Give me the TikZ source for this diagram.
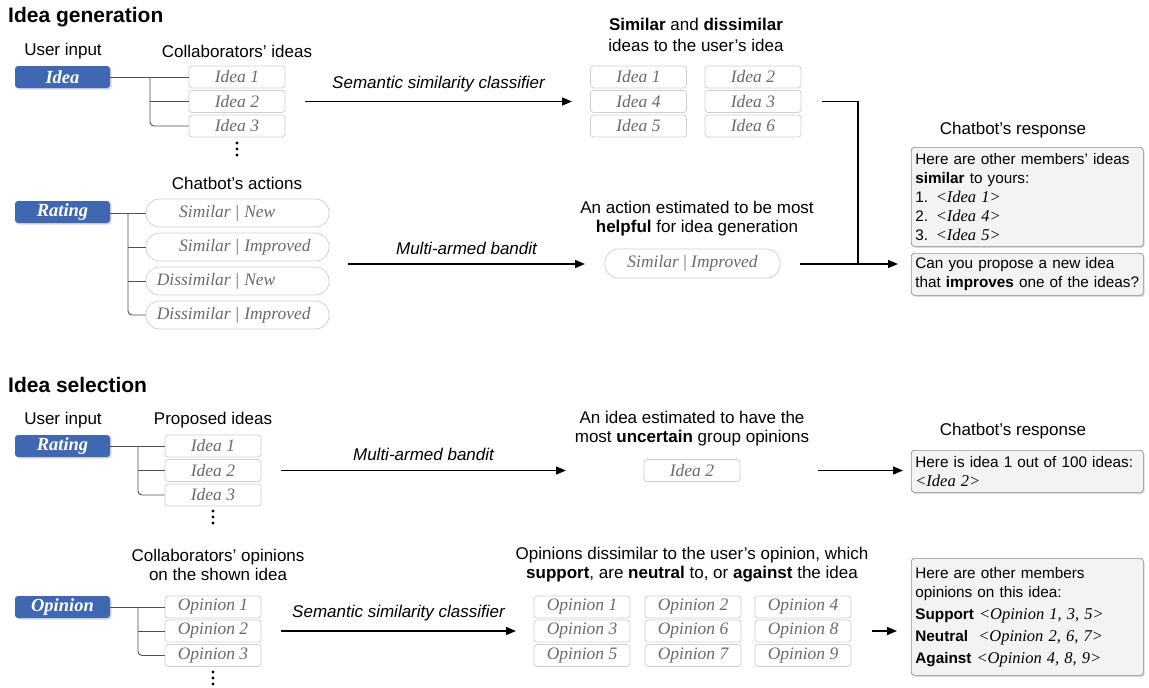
\documentclass[tikz,border=0pt]{standalone}
\usepackage{fontspec}
\setmainfont{Liberation Sans}
\newfontfamily\ser{Liberation Serif}
\usetikzlibrary{arrows.meta,shadows,calc}
\definecolor{myblue}{HTML}{4068B2}
\definecolor{boxline}{HTML}{CFCFCF}
\definecolor{boxtext}{HTML}{6A6A6A}
\definecolor{respfill}{HTML}{F3F3F3}
\definecolor{respline}{HTML}{8E8E8E}
\definecolor{treecol}{HTML}{505050}
\newcommand\pilltext[2]{\makebox[82pt][r]{#1}\hspace{5pt}{\upshape|}\hspace{5pt}\makebox[82pt][l]{#2}}
\newcommand\sit[1]{{\ser\itshape\fontsize{16.5}{19}\selectfont #1}}
\begin{document}
\begin{tikzpicture}[x=1pt,y=-1pt,
  txt/.style={font=\fontsize{17}{20}\selectfont, align=center, inner sep=0pt},
  lbl/.style={font=\fontsize{17}{20}\selectfont\itshape, inner sep=0pt},
  ttl/.style={font=\fontsize{21}{24}\selectfont\bfseries, anchor=west, inner sep=0pt},
  ubox/.style={rectangle, rounded corners=3pt, fill=myblue, text=white,
    font=\fontsize{18.5}{18}\selectfont\ser\bfseries\itshape, minimum width=95pt,
    minimum height=22pt, inner sep=0pt,
    drop shadow={shadow xshift=1.5pt, shadow yshift=-1.5pt, opacity=0.3}},
  ibox/.style={rectangle, rounded corners=3pt, draw=boxline, line width=0.8pt, text=boxtext,
    font=\fontsize{17.5}{18}\selectfont\ser\itshape, minimum width=96pt,
    minimum height=22pt, inner sep=0pt},
  pillbox/.style={rectangle, rounded corners=13.5pt, draw=boxline, line width=0.8pt, text=boxtext,
    font=\fontsize{17.5}{18}\selectfont\ser\itshape, minimum width=183pt,
    minimum height=28pt, inner sep=0pt},
  resp/.style={rectangle, rounded corners=3pt, draw=respline, line width=0.7pt, fill=respfill,
    anchor=north west, text width=224pt, inner xsep=4pt, inner ysep=3.5pt, align=left,
    font=\fontsize{15.3}{19}\selectfont,
    drop shadow={shadow xshift=1.2pt, shadow yshift=-1.5pt, opacity=0.3}},
  tree/.style={draw=treecol, line width=0.9pt, rounded corners=4pt},
  arr/.style={-{Triangle[length=10pt,width=8pt]}, line width=1.4pt, black},
  plain/.style={line width=1.4pt, black}
]
\useasboundingbox (0,0) rectangle (1149,688);

% ================= Idea generation =================
\node[ttl] (t1) at (8,17) {Idea generation};
\node[txt] (ui1) at (63,51) {User input};
\node[txt] (ci1) at (237,51) {Collaborators’ ideas};
\node[ubox] (u1) at (62.5,77) {Idea};
\node[ibox] (a1) at (237,77) {Idea 1};
\node[ibox] (a2) at (237,101.5) {Idea 2};
\node[ibox] (a3) at (237,126) {Idea 3};
\foreach \yy in {143,149,155} \fill (237,\yy) circle (1.6pt);
\coordinate (b1) at (150,77);
\draw[tree] (u1.east) -- (a1.west);
\draw[tree] (b1) |- (a3.west);
\draw[tree] (b1 |- a2.west) -- (a2.west);

\node[txt] (sd) at (696,34.5) {\textbf{Similar} and \textbf{dissimilar}\\[1pt]ideas to the user’s idea};
\node[ibox] (g11) at (638.5,77) {Idea 1};
\node[ibox] (g12) at (753,77) {Idea 2};
\node[ibox] (g21) at (638.5,101.5) {Idea 4};
\node[ibox] (g22) at (753,101.5) {Idea 3};
\node[ibox] (g31) at (638.5,126) {Idea 5};
\node[ibox] (g32) at (753,126) {Idea 6};
\coordinate (s1) at (305,101.5);
\coordinate (e1) at (572,101.5);
\draw[arr] (s1) -- (e1) node[lbl, midway, above=9pt] (l1) {Semantic similarity classifier};

\node[txt] (cr1) at (1013,130) {Chatbot’s response};
\node[resp, minimum height=99pt] (r1) at (911,147) {\mbox{Here are other members’ ideas}\\
\textbf{similar} to yours:\\
1. \sit{<Idea 1>}\\
2. \sit{<Idea 4>}\\
3. \sit{<Idea 5>}};
\node[resp, minimum height=42pt] (r2) at (911,253) {\mbox{Can you propose a new idea}\\\mbox{that \textbf{improves} one of the ideas?}};

\node[txt] (ca) at (237,183) {Chatbot’s actions};
\node[ubox] (u2) at (62.5,212) {Rating};
\node[pillbox] (p1) at (237.5,213) {\pilltext{Similar}{New}};
\node[pillbox] (p2) at (237.5,247) {\pilltext{Similar}{Improved}};
\node[pillbox] (p3) at (237.5,281) {\pilltext{Dissimilar}{New}};
\node[pillbox] (p4) at (237.5,315) {\pilltext{Dissimilar}{Improved}};
\coordinate (b2) at (128,213);
\draw[tree] (u2.east |- p1.west) -- (p1.west);
\draw[tree] (b2) |- (p4.west);
\draw[tree] (b2 |- p2.west) -- (p2.west);
\draw[tree] (b2 |- p3.west) -- (p3.west);

\node[txt] (ae) at (697,218.5) {An action estimated to be most\\[-1pt]\textbf{helpful} for idea generation};
\node[pillbox, minimum width=175pt, minimum height=29pt] (sp) at (692.5,263.5) {Similar {\upshape|} Improved};
\coordinate (s2) at (348,264);
\coordinate (e2) at (585,264);
\draw[arr] (s2) -- (e2) node[lbl, midway, above=9pt] (l2) {Multi-armed bandit};
\coordinate (s3) at (800,264);
\coordinate (e3) at (898,264);
\coordinate (j1) at (858,264);
\coordinate (s4) at (822,101.5);
\draw[arr] (s3) -- (e3);
\draw[plain] (s4) -| (j1);

% ================= Idea selection =================
\node[ttl] (t2) at (8,385) {Idea selection};
\node[txt] (ui2) at (63,420) {User input};
\node[txt] (pi) at (213,420) {Proposed ideas};
\node[ubox] (u3) at (62.5,446) {Rating};
\node[ibox] (c1) at (213,446) {Idea 1};
\node[ibox] (c2) at (213,470.5) {Idea 2};
\node[ibox] (c3) at (213,495) {Idea 3};
\foreach \yy in {511,517,523} \fill (213,\yy) circle (1.6pt);
\coordinate (b3) at (138,446);
\draw[tree] (u3.east) -- (c1.west);
\draw[tree] (b3) |- (c3.west);
\draw[tree] (b3 |- c2.west) -- (c2.west);

\coordinate (s5) at (281,470.5);
\coordinate (e5) at (566,470.5);
\draw[arr] (s5) -- (e5) node[lbl, midway, above=9pt] (l3) {Multi-armed bandit};
\node[txt] (ie) at (692,428.5) {An idea estimated to have the\\[-1pt]most \textbf{uncertain} group opinions};
\node[ibox] (sel) at (692,470.5) {Idea 2};
\coordinate (s6) at (818,470.5);
\coordinate (e6) at (903,470.5);
\draw[arr] (s6) -- (e6);
\node[txt] (cr2) at (1013,431) {Chatbot’s response};
\node[resp, minimum height=42pt] (r3) at (911,450) {\mbox{Here is idea 1 out of 100 ideas:}\\\sit{<Idea 2>}};

\node[txt] (co) at (218,565) {Collaborators’ opinions\\[-1pt]on the shown idea};
\node[ubox] (u4) at (62.5,607) {Opinion};
\node[ibox] (o1) at (213,607) {Opinion 1};
\node[ibox] (o2) at (213,631) {Opinion 2};
\node[ibox] (o3) at (213,655.5) {Opinion 3};
\foreach \yy in {672,678,684} \fill (213,\yy) circle (1.6pt);
\coordinate (b4) at (138,607);
\draw[tree] (u4.east) -- (o1.west);
\draw[tree] (b4) |- (o3.west);
\draw[tree] (b4 |- o2.west) -- (o2.west);

\coordinate (s7) at (281,631);
\coordinate (e7) at (516,631);
\draw[arr] (s7) -- (e7) node[lbl, midway, above=9pt] (l4) {Semantic similarity classifier};
\node[txt] (od) at (692,565) {Opinions dissimilar to the user’s opinion, which\\[-1pt]\textbf{support}, are \textbf{neutral} to, or \textbf{against} the idea};
\node[ibox] (h11) at (582,607) {Opinion 1};
\node[ibox] (h12) at (693,607) {Opinion 2};
\node[ibox] (h13) at (803,607) {Opinion 4};
\node[ibox] (h21) at (582,631) {Opinion 3};
\node[ibox] (h22) at (693,631) {Opinion 6};
\node[ibox] (h23) at (803,631) {Opinion 8};
\node[ibox] (h31) at (582,655.5) {Opinion 5};
\node[ibox] (h32) at (693,655.5) {Opinion 7};
\node[ibox] (h33) at (803,655.5) {Opinion 9};
\coordinate (s8) at (872,631);
\coordinate (e8) at (897,631);
\draw[arr] (s8) -- (e8);
\node[resp, minimum height=117pt] (r4) at (911,558) {Here are other members\\
opinions on this idea:\\[3pt]
\textbf{Support} \sit{<Opinion 1, 3, 5>}\\[3pt]
\textbf{Neutral}\ \ \sit{<Opinion 2, 6, 7>}\\[3pt]
\textbf{Against} \sit{<Opinion 4, 8, 9>}};
\end{tikzpicture}
\end{document}
